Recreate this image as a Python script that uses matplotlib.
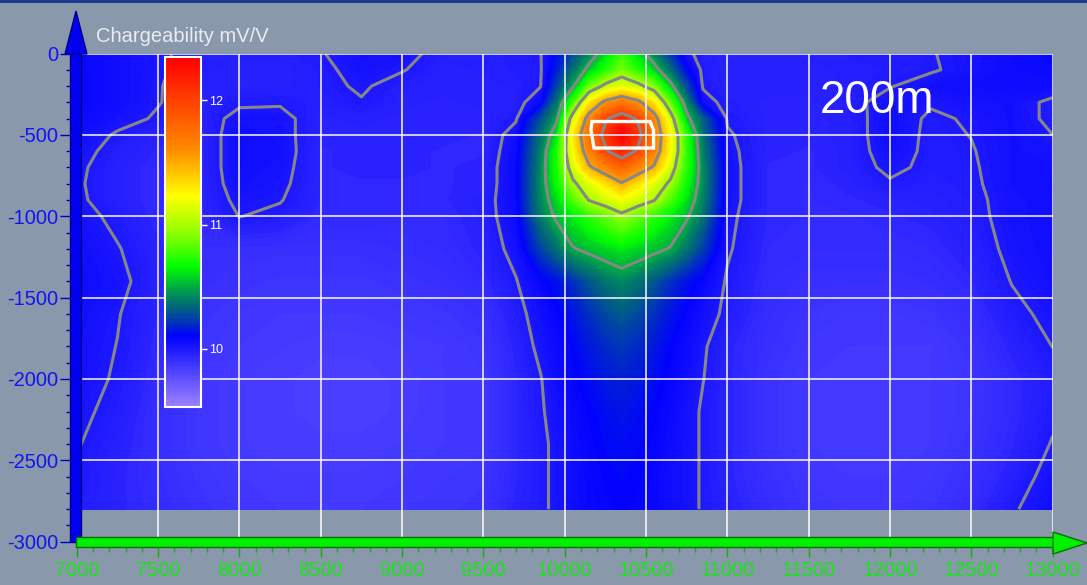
import numpy as np
import matplotlib
matplotlib.use('Agg')
import matplotlib.pyplot as plt
from matplotlib.colors import LinearSegmentedColormap, Normalize
from matplotlib.patches import Rectangle, Polygon
import matplotlib.cm as cm

# grid nodes (m)
distance = [7000, 7250, 7500, 7750, 8000, 8250, 8500, 8750, 9000, 9250, 9500,
            9700, 9850, 9950, 10050, 10150, 10250, 10350, 10450, 10550, 10650,
            10750, 10850, 11000, 11250, 11500, 11750, 12000, 12250, 12500, 12750, 13000]
depth = [0, -100, -200, -300, -400, -500, -600, -700, -800, -900, -1000,
         -1200, -1400, -1600, -1800, -2000, -2200, -2400, -2600, -2800]

# chargeability mV/V, one row per depth
chargeability = [
    [10.08, 10.05, 10.01, 9.98, 9.97, 9.97, 9.995, 10.04, 10.03, 9.97, 9.97,
     9.985, 9.995, 10.11, 10.26, 10.41, 10.58, 10.75, 10.59, 10.40, 10.21, 10.02, 9.97, 9.96,
     9.96, 9.97, 9.98, 9.98, 9.995, 10.03, 10.06, 10.08],
    [10.08, 10.05, 10.01, 9.97, 9.96, 9.96, 9.98, 10.03, 10.005, 9.96, 9.97,
     9.98, 9.99, 10.16, 10.36, 10.55, 10.71, 10.88, 10.72, 10.56, 10.35, 10.11, 9.98, 9.96,
     9.96, 9.96, 9.97, 9.98, 9.99, 10.03, 10.06, 10.07],
    [10.08, 10.05, 10.005, 9.96, 9.95, 9.96, 9.98, 10.01, 9.97, 9.96, 9.96,
     9.97, 9.995, 10.24, 10.48, 10.84, 11.05, 11.15, 11.06, 10.89, 10.55, 10.25, 9.99, 9.96,
     9.96, 9.96, 9.97, 9.995, 10.04, 10.05, 10.06, 10.05],
    [10.08, 10.05, 10.004, 9.96, 9.985, 9.99, 9.97, 9.995, 9.96, 9.95, 9.96,
     9.96, 10.07, 10.36, 10.77, 11.28, 11.56, 11.70, 11.56, 11.28, 10.83, 10.41, 10.04, 9.97,
     9.95, 9.95, 9.97, 10.04, 10.01, 10.03, 10.04, 9.98],
    [10.07, 10.03, 9.99, 9.95, 10.03, 10.03, 9.95, 9.96, 9.95, 9.95, 9.95,
     9.99, 10.27, 10.47, 11.11, 11.61, 11.97, 12.15, 11.97, 11.61, 11.11, 10.55, 10.30, 9.99,
     9.95, 9.95, 9.96, 10.05, 9.985, 10.01, 10.04, 9.98],
    [10.05, 9.99, 9.95, 9.94, 10.05, 10.03, 9.95, 9.95, 9.95, 9.95, 9.94,
     10.04, 10.35, 10.60, 11.28, 11.75, 12.08, 12.35, 12.09, 11.70, 11.24, 10.72, 10.36, 10.01,
     9.95, 9.95, 9.96, 10.05, 9.98, 10.002, 10.04, 10.0],
    [10.03, 9.97, 9.94, 9.94, 10.05, 10.04, 9.94, 9.95, 9.95, 9.94, 9.94,
     10.06, 10.39, 10.70, 11.23, 11.65, 11.97, 12.15, 11.97, 11.65, 11.23, 10.74, 10.39, 10.02,
     9.95, 9.94, 9.96, 10.04, 9.98, 9.995, 10.04, 10.03],
    [10.015, 9.96, 9.93, 9.94, 10.05, 10.03, 9.94, 9.95, 9.95, 9.94, 9.95,
     10.07, 10.41, 10.71, 11.11, 11.47, 11.64, 11.80, 11.64, 11.47, 11.11, 10.73, 10.42, 10.03,
     9.94, 9.94, 9.96, 10.02, 9.98, 9.99, 10.04, 10.04],
    [10.01, 9.96, 9.93, 9.94, 10.04, 10.02, 9.94, 9.94, 9.94, 9.94, 9.95,
     10.07, 10.42, 10.66, 10.96, 11.14, 11.31, 11.48, 11.31, 11.14, 10.96, 10.67, 10.42, 10.03,
     9.94, 9.93, 9.95, 9.99, 9.97, 9.985, 10.04, 10.05],
    [10.015, 9.96, 9.93, 9.94, 10.02, 10.005, 9.94, 9.94, 9.94, 9.94, 9.96,
     10.07, 10.41, 10.59, 10.80, 11.01, 11.10, 11.20, 11.10, 11.01, 10.80, 10.60, 10.40, 10.03,
     9.94, 9.93, 9.94, 9.95, 9.96, 9.98, 10.03, 10.05],
    [10.03, 9.98, 9.93, 9.93, 10.002, 9.98, 9.93, 9.93, 9.93, 9.93, 9.96,
     10.06, 10.38, 10.53, 10.63, 10.74, 10.84, 10.95, 10.84, 10.74, 10.63, 10.52, 10.36, 10.02,
     9.94, 9.93, 9.93, 9.94, 9.95, 9.975, 10.03, 10.05],
    [10.05, 10.005, 9.95, 9.91, 9.90, 9.90, 9.90, 9.90, 9.91, 9.92, 9.95,
     10.03, 10.24, 10.36, 10.49, 10.54, 10.58, 10.62, 10.58, 10.54, 10.49, 10.37, 10.23, 10.01,
     9.93, 9.92, 9.92, 9.92, 9.93, 9.96, 10.02, 10.05],
    [10.06, 10.025, 9.95, 9.90, 9.89, 9.88, 9.88, 9.88, 9.89, 9.90, 9.93,
     9.995, 10.08, 10.13, 10.20, 10.29, 10.37, 10.42, 10.37, 10.29, 10.20, 10.13, 10.08, 9.99,
     9.92, 9.90, 9.90, 9.90, 9.91, 9.94, 10.003, 10.04],
    [10.05, 10.005, 9.94, 9.89, 9.87, 9.86, 9.86, 9.86, 9.87, 9.88, 9.90,
     9.97, 10.04, 10.09, 10.14, 10.20, 10.26, 10.30, 10.26, 10.20, 10.14, 10.09, 10.04, 9.98,
     9.91, 9.88, 9.87, 9.87, 9.88, 9.91, 9.98, 10.02],
    [10.04, 9.998, 9.93, 9.88, 9.86, 9.85, 9.84, 9.84, 9.85, 9.86, 9.88,
     9.95, 10.02, 10.06, 10.10, 10.15, 10.19, 10.22, 10.19, 10.15, 10.10, 10.06, 10.01, 9.95,
     9.90, 9.87, 9.86, 9.86, 9.86, 9.89, 9.95, 10.001],
    [10.035, 9.99, 9.92, 9.87, 9.85, 9.84, 9.83, 9.83, 9.84, 9.86, 9.87,
     9.94, 9.995, 10.05, 10.09, 10.12, 10.15, 10.17, 10.15, 10.12, 10.09, 10.05, 10.002, 9.95,
     9.89, 9.86, 9.85, 9.85, 9.86, 9.88, 9.93, 9.98],
    [10.02, 9.975, 9.91, 9.87, 9.85, 9.84, 9.83, 9.83, 9.84, 9.86, 9.87,
     9.94, 9.99, 10.03, 10.07, 10.10, 10.12, 10.14, 10.12, 10.10, 10.07, 10.03, 9.99, 9.95,
     9.89, 9.86, 9.85, 9.85, 9.86, 9.88, 9.93, 9.985],
    [10.005, 9.96, 9.91, 9.87, 9.85, 9.84, 9.84, 9.84, 9.85, 9.86, 9.87,
     9.94, 9.98, 10.02, 10.06, 10.09, 10.11, 10.12, 10.11, 10.09, 10.06, 10.03, 9.99, 9.95,
     9.89, 9.86, 9.85, 9.85, 9.86, 9.89, 9.94, 10.005],
    [9.99, 9.95, 9.91, 9.88, 9.86, 9.85, 9.85, 9.85, 9.86, 9.87, 9.88,
     9.94, 9.98, 10.02, 10.05, 10.08, 10.10, 10.11, 10.10, 10.08, 10.05, 10.03, 9.99, 9.95,
     9.90, 9.87, 9.86, 9.86, 9.87, 9.90, 9.96, 10.03],
    [9.98, 9.95, 9.92, 9.89, 9.87, 9.86, 9.86, 9.86, 9.87, 9.88, 9.89,
     9.95, 9.98, 10.02, 10.05, 10.08, 10.09, 10.10, 10.09, 10.08, 10.05, 10.03, 9.99, 9.96,
     9.91, 9.88, 9.87, 9.87, 9.88, 9.92, 9.99, 10.05],
]

# colour scale
scale_values = [9.53, 10.1, 10.22, 10.34, 10.46, 10.66, 10.9, 11.23, 11.6, 12.0, 12.35]
scale_colors = ['#9c82ff', '#0000ff', '#0038b4', '#006878', '#009a50', '#00ff00',
                '#80ff00', '#ffff00', '#ff8c00', '#ff4000', '#ff0000']
contour_levels = [10.0, 10.5, 11.0, 11.5, 12.0]
colorbar_ticks = [10, 11, 12]

# target body outline
target_x = [10167, 10524, 10546, 10546, 10180, 10161]
target_y = [-418, -418, -470, -581, -581, -470]

W, H = 1087, 585
BG = '#8998aa'

plt.rcParams['font.family'] = ['Liberation Sans', 'DejaVu Sans']
plt.rcParams['axes.unicode_minus'] = False


def fig_xy(px, py):
    return px / W, 1 - py / H


fig = plt.figure(figsize=(W / 100, H / 100), dpi=100, facecolor=BG)

ax = fig.add_axes([76.8 / W, 1 - 541.7 / H, (1052.7 - 76.8) / W, (541.7 - 53.5) / H])
ax.set_facecolor('none')

vmin, vmax = scale_values[0], scale_values[-1]
norm = Normalize(vmin=vmin, vmax=vmax)
cmap = LinearSegmentedColormap.from_list(
    'ip', [((v - vmin) / (vmax - vmin), c) for v, c in zip(scale_values, scale_colors)])

z = np.array(chargeability)
ax.contourf(distance, depth, z, levels=np.linspace(vmin, vmax, 240), cmap=cmap,
            norm=norm, extend='both', zorder=1)
ax.contour(distance, depth, z, levels=contour_levels, colors='#878787',
           linewidths=2.2, zorder=2)

ax.add_patch(Polygon(np.column_stack([target_x, target_y]), closed=True, fill=False,
                     ec='white', lw=2.4, zorder=4))

ax.set_xlim(7000, 13000)
ax.set_ylim(-3000, 0)
ax.set_xticks(np.arange(7000, 13001, 500))
ax.set_yticks(np.arange(-3000, 1, 500))
ax.set_xticks(np.arange(7000, 13001, 100), minor=True)
ax.set_yticks(np.arange(-3000, 1, 100), minor=True)
ax.set_axisbelow(False)
ax.grid(True, which='major', color='white', lw=1.2, alpha=0.9)
for s in ax.spines.values():
    s.set_visible(False)
ax.spines['left'].set_position(('outward', 4.9))
ax.spines['bottom'].set_position(('outward', 3.8))
ax.tick_params(axis='y', which='major', length=7.2, width=1, color='#0000c8',
               labelcolor='#1414f0', labelsize=14.5, pad=1.4)
ax.tick_params(axis='y', which='minor', length=2.9, width=1, color='#0000c8')
ax.tick_params(axis='x', which='major', length=7.2, width=1, color='#12b012',
               labelcolor='#18e618', labelsize=14.5, pad=2.6)
ax.tick_params(axis='x', which='minor', length=3.6, width=1, color='#12b012')

# axis bars with arrows
x0, y0 = fig_xy(70, 542)
x1, y1 = fig_xy(81, 53)
fig.patches.append(Rectangle((x0, y0), x1 - x0, y1 - y0, transform=fig.transFigure,
                             fc='#0000ee', ec='#00008a', lw=1))
fig.patches.append(Polygon([fig_xy(65, 54), fig_xy(87, 54), fig_xy(76, 11)],
                           transform=fig.transFigure, fc='#0000ee', ec='#00008a', lw=1))
x0, y0 = fig_xy(76, 547)
x1, y1 = fig_xy(1054, 537)
fig.patches.append(Rectangle((x0, y0), x1 - x0, y1 - y0, transform=fig.transFigure,
                             fc='#00f000', ec='#0a6e0a', lw=1))
fig.patches.append(Polygon([fig_xy(1053, 532), fig_xy(1053, 554), fig_xy(1087, 543)],
                           transform=fig.transFigure, fc='#00f000', ec='#0a6e0a', lw=1))
fig.patches.append(Rectangle((0, 1 - 3 / H), 1, 3 / H, transform=fig.transFigure,
                             fc='#1d3a8e', ec='none'))

# colour bar inside plot
cax = fig.add_axes([165 / W, 1 - 407 / H, 36 / W, 350 / H])
sm = cm.ScalarMappable(norm=norm, cmap=cmap)
cb = fig.colorbar(sm, cax=cax, ticks=colorbar_ticks)
cb.outline.set_edgecolor('white')
cb.outline.set_linewidth(1.5)
cax.tick_params(colors='white', labelcolor='white', labelsize=9, length=4, width=1, pad=1.5)

tx, ty = fig_xy(96, 42.5)
fig.text(tx, ty, 'Chargeability mV/V', color='#e8edf3', fontsize=14.5, va='baseline')
tx, ty = fig_xy(820, 113)
fig.text(tx, ty, '200m', color='white', fontsize=33, va='baseline')

fig.savefig('out.png', dpi=100, facecolor=BG)
